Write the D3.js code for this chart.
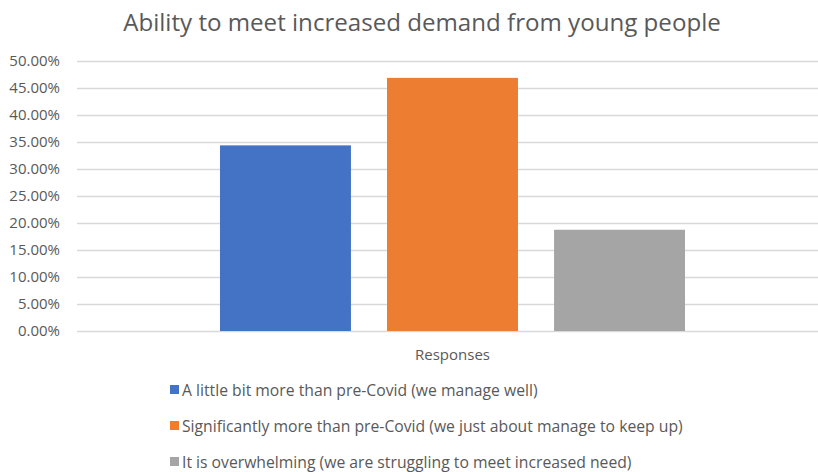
<!DOCTYPE html>
<html>
<head>
<meta charset="utf-8">
<script src="https://cdn.jsdelivr.net/npm/d3@7"></script>
<style>
  html, body { margin: 0; padding: 0; background: #fff; }
  svg { display: block; font-family: "Open Sans", "Noto Sans", sans-serif; }
</style>
</head>
<body>
<svg id="chart" width="818" height="472"></svg>
<script>
// Survey answers (share of respondents)
const categories = ["Responses"];
const seriesNames = [
  "A little bit more than pre-Covid (we manage well)",
  "Significantly more than pre-Covid (we just about manage to keep up)",
  "It is overwhelming (we are struggling to meet increased need)"
];
const seriesValues = [0.34375, 0.46875, 0.1875];
const seriesColors = ["#4472C4", "#ED7D31", "#A5A5A5"];
const yTicks = [0, 0.05, 0.10, 0.15, 0.20, 0.25, 0.30, 0.35, 0.40, 0.45, 0.50];
const titleText = "Ability to meet increased demand from young people";

const svg = d3.select("#chart");
const plot = { left: 77, right: 828, top: 61, bottom: 331 };
const textColor = "#595959";

const y = d3.scaleLinear().domain([0, 0.5]).range([plot.bottom, plot.top]);
const x0 = d3.scaleBand().domain(categories).range([plot.left, plot.right])
  .paddingInner(0).paddingOuter(0.3075);
const x1 = d3.scaleBand().domain(seriesNames).range([0, x0.bandwidth()])
  .paddingInner(0.216).paddingOuter(0);

// Title
const title = svg.append("text")
  .attr("x", 422).attr("y", 31)
  .attr("text-anchor", "middle")
  .attr("fill", textColor)
  .attr("font-size", 24)
  .text(titleText);
// keep the title at its intended width
const tw = title.node().getComputedTextLength();
title.attr("font-size", 24 * 598 / tw);

// Gridlines + y axis labels
const yAxis = d3.axisLeft(y)
  .tickValues(yTicks)
  .tickSize(-(plot.right - plot.left))
  .tickPadding(17)
  .tickFormat(d3.format(".2%"));
const gy = svg.append("g")
  .attr("transform", `translate(${plot.left},0)`)
  .call(yAxis);
gy.select(".domain").remove();
gy.selectAll(".tick line").attr("stroke", "#D9D9D9").attr("stroke-width", 1.3);
gy.selectAll(".tick text")
  .attr("fill", textColor)
  .attr("font-size", 15)
  .attr("font-family", "Open Sans, sans-serif");

// Bars
const g = svg.append("g");
categories.forEach(cat => {
  g.selectAll(null)
    .data(seriesNames.map((s, i) => ({ s, v: seriesValues[i], c: seriesColors[i] })))
    .join("rect")
    .attr("x", d => x0(cat) + x1(d.s))
    .attr("width", x1.bandwidth())
    .attr("y", d => y(d.v))
    .attr("height", d => y(0) - y(d.v))
    .attr("fill", d => d.c);
});

// Category axis label
svg.append("text")
  .attr("x", x0("Responses") + x0.bandwidth() / 2)
  .attr("y", 360)
  .attr("text-anchor", "middle")
  .attr("fill", textColor)
  .attr("font-size", 15)
  .text(categories[0]);

// Legend
const legend = svg.append("g").attr("transform", "translate(170,0)");
const rowY = [396, 432, 468];
const items = seriesNames.map((name, i) => {
  legend.append("rect")
    .attr("x", 0).attr("y", rowY[i] - 11)
    .attr("width", 9).attr("height", 9)
    .attr("fill", seriesColors[i]);
  return legend.append("text")
    .attr("x", 12).attr("y", rowY[i])
    .attr("fill", textColor)
    .attr("font-size", 15)
    .text(name);
});
// size legend text so the longest entry spans its intended width
const lw = items[1].node().getComputedTextLength();
items.forEach(t => t.attr("font-size", 15 * 501 / lw));
</script>
</body>
</html>
